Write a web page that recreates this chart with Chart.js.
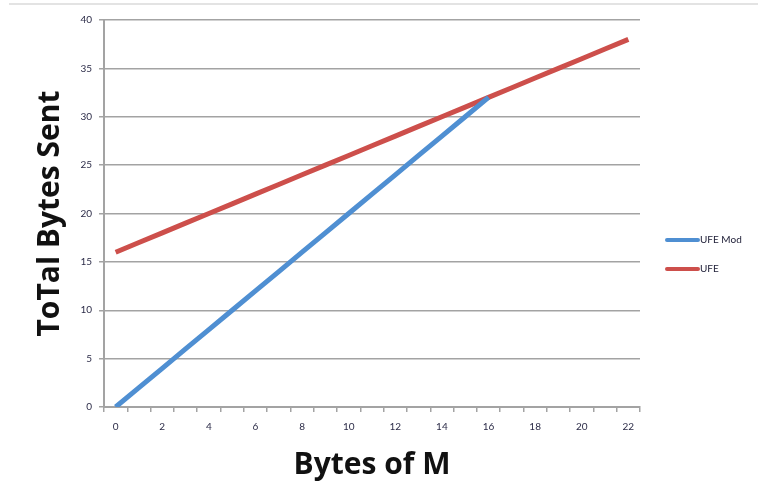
<!DOCTYPE html>
<html>
<head>
<meta charset="utf-8">
<script src="https://cdn.jsdelivr.net/npm/chart.js@4.4.1/dist/chart.umd.min.js"></script>
<style>
  html, body { margin: 0; padding: 0; background: #ffffff; }
  #wrap { position: relative; width: 758px; height: 495px; }
</style>
</head>
<body>
<div id="wrap"><canvas id="c" width="758" height="495"></canvas></div>
<script>
// Message size M (bytes) on the category axis
const bytesOfM = ['0','1','2','3','4','5','6','7','8','9','10','11','12','13','14','15','16','17','18','19','20','21','22'];
// Total bytes sent by each scheme
const ufeMod = [0, 2, 4, 6, 8, 10, 12, 14, 16, 18, 20, 22, 24, 26, 28, 30, 32, null, null, null, null, null, null];
const ufe    = [16, 17, 18, 19, 20, 21, 22, 23, 24, 25, 26, 27, 28, 29, 30, 31, 32, 33, 34, 35, 36, 37, 38];
// Value axis ticks
const yTicks = [0, 5, 10, 15, 20, 25, 30, 35, 40];

const seriesNames = ['UFE Mod', 'UFE'];
const seriesColors = ['#4f8fd2', '#cd4f4b'];

const gridGray = '#a3a3a3';
const tickFont = { family: 'Lato, "Liberation Sans", sans-serif', size: 10 };
const tickColor = '#2c2c48';
const titleFont = { family: '"Open Sans", Lato, sans-serif', size: 30, weight: 'bold' };

// Thin frame edge across the top and the legend at the right
const decor = {
  id: 'decor',
  beforeDraw(chart) {
    const ctx = chart.ctx;
    ctx.save();
    ctx.fillStyle = '#e3e3e3';
    ctx.fillRect(9, 3, 749, 2);
    ctx.restore();
  },
  afterDraw(chart) {
    const ctx = chart.ctx;
    ctx.save();
    const rows = [240, 269];
    chart.data.datasets.forEach((ds, i) => {
      const y = rows[i];
      ctx.strokeStyle = ds.borderColor;
      ctx.lineWidth = 4;
      ctx.lineCap = 'round';
      ctx.beginPath();
      ctx.moveTo(667, y);
      ctx.lineTo(698, y);
      ctx.stroke();
      ctx.fillStyle = '#22223a';
      ctx.font = '10px Lato, "Liberation Sans", sans-serif';
      ctx.textBaseline = 'middle';
      ctx.textAlign = 'left';
      ctx.fillText(ds.label, 700, y);
    });
    ctx.restore();
  }
};

new Chart(document.getElementById('c'), {
  type: 'line',
  data: {
    labels: bytesOfM,
    datasets: [
      { label: seriesNames[0], data: ufeMod, borderColor: seriesColors[0], backgroundColor: seriesColors[0] },
      { label: seriesNames[1], data: ufe, borderColor: seriesColors[1], backgroundColor: seriesColors[1] }
    ]
  },
  plugins: [decor],
  options: {
    responsive: false,
    animation: false,
    devicePixelRatio: 1,
    layout: { padding: { left: 0, right: 118, top: 20, bottom: 0 } },
    elements: {
      line: { borderWidth: 5, tension: 0, borderCapStyle: 'butt', borderJoinStyle: 'round' },
      point: { radius: 0, hoverRadius: 0 }
    },
    plugins: { legend: { display: false }, tooltip: { enabled: false } },
    scales: {
      x: {
        type: 'category',
        offset: true,
        afterFit(scale) { scale.height = 88; },
        grid: { offset: true, drawOnChartArea: false, drawTicks: true, tickLength: 5, color: gridGray, lineWidth: 1.5 },
        border: { display: true, color: gridGray, width: 2 },
        ticks: {
          autoSkip: false, maxRotation: 0, padding: 9,
          font: tickFont, color: tickColor,
          callback(value, index) { return index % 2 === 0 ? bytesOfM[index] : ''; }
        },
        title: {
          display: true, text: 'Bytes of M',
          font: titleFont, color: '#111111', padding: { top: 0, bottom: 12 }
        }
      },
      y: {
        min: 0, max: 40,
        afterFit(scale) { scale.width = 104; },
        afterBuildTicks(scale) { scale.ticks = yTicks.map(v => ({ value: v })); },
        grid: { drawTicks: true, tickLength: 5, color: gridGray, lineWidth: 1.5 },
        border: { display: true, color: gridGray, width: 2 },
        ticks: { padding: 7, font: tickFont, color: tickColor },
        title: {
          display: true, text: 'ToTal Bytes Sent',
          font: titleFont, color: '#111111', padding: { top: 32, bottom: 0 }
        }
      }
    }
  }
});
</script>
</body>
</html>
